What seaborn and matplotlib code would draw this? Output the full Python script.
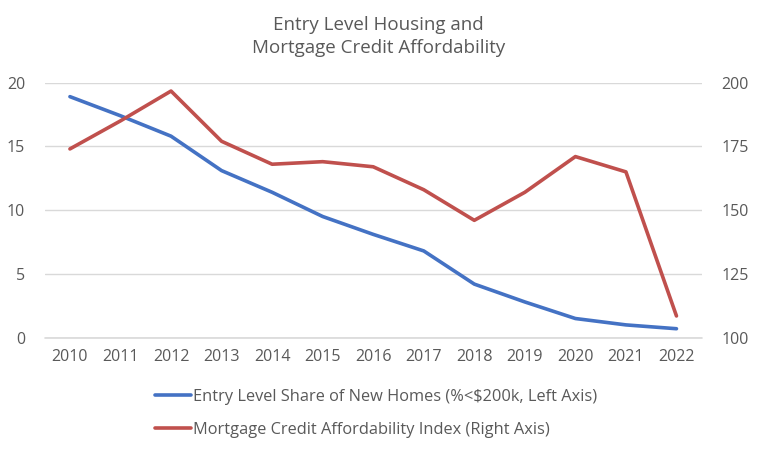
import matplotlib
matplotlib.use("Agg")
import matplotlib.pyplot as plt
import seaborn as sns
import pandas as pd

years = ["2010", "2011", "2012", "2013", "2014", "2015", "2016", "2017", "2018", "2019", "2020", "2021", "2022"]
entry_share = [18.9, 17.4, 15.8, 13.1, 11.4, 9.5, 8.1, 6.8, 4.2, 2.8, 1.5, 1.0, 0.7]
mcai = [174, 185, 196.7, 177, 168, 169, 167, 158, 146, 157, 171, 165, 108.5]
left_ticks = [0, 5, 10, 15, 20]
right_ticks = [100, 125, 150, 175, 200]
label_blue = "Entry Level Share of New Homes (%<$200k, Left Axis)"
label_red = "Mortgage Credit Affordability Index (Right Axis)"
title = "Entry Level Housing and\nMortgage Credit Affordability"

sns.set_theme(style="white")
plt.rcParams['font.family'] = ['Open Sans', 'DejaVu Sans']
txt = "#595959"

df = pd.DataFrame({"idx": range(len(years)), "year": years,
                   "share": entry_share, "mcai": mcai})

fig = plt.figure(figsize=(7.57, 4.49), dpi=100)
ax = fig.add_axes([0.059, 0.248, 0.868, 0.568])
ax2 = ax.twinx()

sns.lineplot(data=df, x="idx", y="share", ax=ax, color="#4472C4", linewidth=2.6,
             label=label_blue, legend=False)
sns.lineplot(data=df, x="idx", y="mcai", ax=ax2, color="#C0504D", linewidth=2.6,
             label=label_red, legend=False)

ax.set_xlim(-0.5, len(years) - 0.5)
ax.set_ylim(0, 20)
ax2.set_ylim(100, 200)
ax.set_yticks(left_ticks)
ax2.set_yticks(right_ticks)
ax.set_xticks(range(len(years)))
ax.set_xticklabels(years)
for a in (ax, ax2):
    a.set_xlabel("")
    a.set_ylabel("")
    for s in a.spines.values():
        s.set_visible(False)
    a.tick_params(axis="both", length=0, labelsize=11.5, labelcolor=txt)
ax.tick_params(axis="y", pad=14)
ax2.tick_params(axis="y", pad=14)
ax.tick_params(axis="x", pad=8)
ax.grid(axis="y", color="#D9D9D9", linewidth=1.0)
ax.axhline(0, color="#D9D9D9", linewidth=1.2, clip_on=False, zorder=0.5)
ax.set_axisbelow(True)
ax2.grid(False)

fig.text(0.5, 0.965, title, ha="center", va="top", fontsize=13.5, color=txt,
         linespacing=1.4)

h1, l1 = ax.get_legend_handles_labels()
h2, l2 = ax2.get_legend_handles_labels()
fig.legend(h1 + h2, l1 + l2, loc="center", bbox_to_anchor=(0.497, 0.079), ncol=1,
           frameon=False, fontsize=11.8, labelcolor=txt, handlelength=2.2,
           handletextpad=0.15, labelspacing=1.05)

fig.savefig("out.png", dpi=100)
